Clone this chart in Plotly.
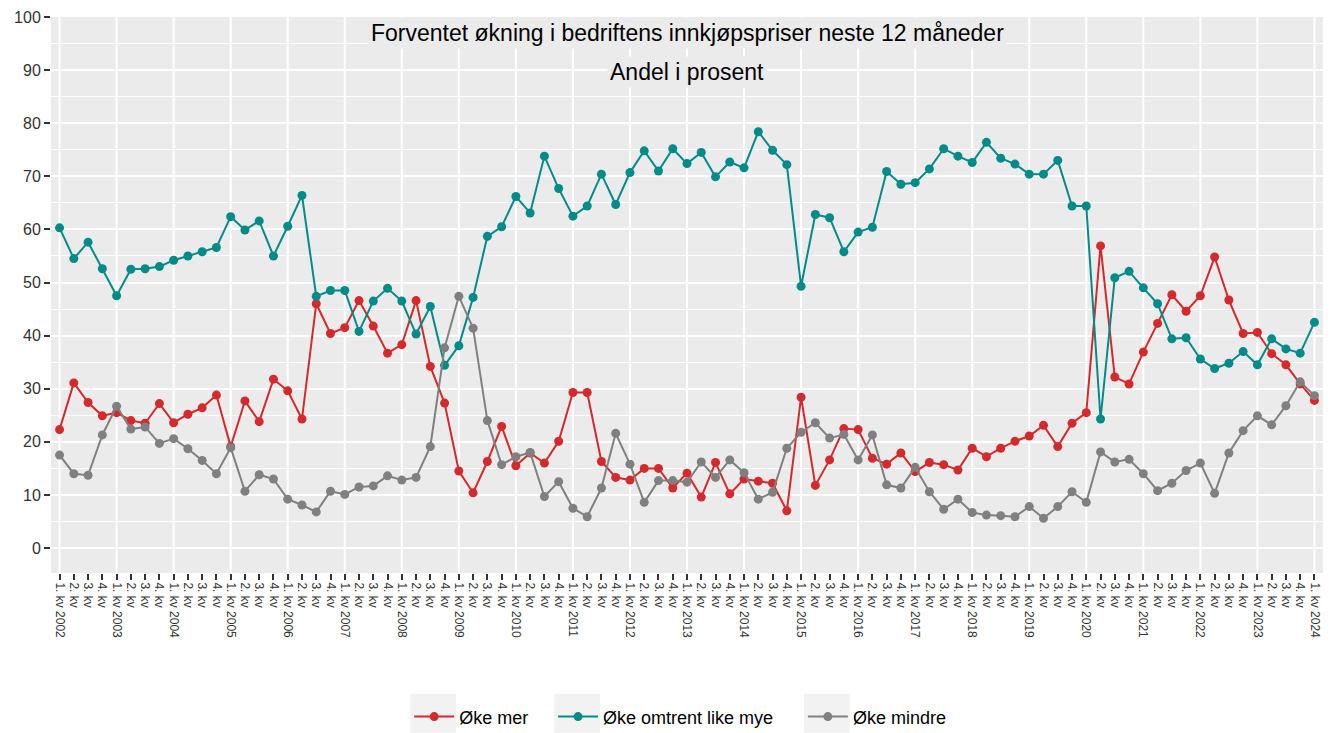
import plotly.graph_objects as go

# ---------------- data ----------------
years = list(range(2002, 2025))
quarter_names = ["1. kv", "2. kv", "3. kv", "4. kv"]

series_names = ["Øke mer", "Øke omtrent like mye", "Øke mindre"]

oke_mer = [
    22.3, 31.1, 27.4, 24.9,
    25.5, 24.0, 23.5, 27.2,
    23.6, 25.2, 26.4, 28.8,
    19.1, 27.7, 23.8, 31.8,
    29.6, 24.3, 46.0, 40.4,
    41.5, 46.6, 41.8, 36.7,
    38.3, 46.6, 34.2, 27.3,
    14.5, 10.4, 16.3, 22.9,
    15.5, 17.9, 16.0, 20.1,
    29.3, 29.3, 16.3, 13.3,
    12.8, 15.0, 15.0, 11.3,
    14.1, 9.6, 16.1, 10.2,
    13.0, 12.6, 12.2, 7.0,
    28.4, 11.8, 16.6, 22.5,
    22.3, 16.9, 15.8, 17.9,
    14.4, 16.1, 15.7, 14.7,
    18.8, 17.2, 18.8, 20.1,
    21.1, 23.1, 19.1, 23.5,
    25.5, 56.9, 32.2, 30.9,
    36.9, 42.3, 47.7, 44.6,
    47.5, 54.8, 46.7, 40.4,
    40.6, 36.6, 34.5, 30.9,
    27.8,
]

oke_like_mye = [
    60.3, 54.5, 57.6, 52.6,
    47.5, 52.5, 52.6, 53.0,
    54.2, 55.0, 55.8, 56.6,
    62.4, 59.9, 61.6, 55.0,
    60.6, 66.4, 47.4, 48.5,
    48.5, 40.8, 46.5, 48.9,
    46.5, 40.3, 45.5, 34.4,
    38.1, 47.2, 58.7, 60.5,
    66.2, 63.1, 73.8, 67.7,
    62.5, 64.4, 70.4, 64.7,
    70.7, 74.8, 71.0, 75.2,
    72.4, 74.5, 69.9, 72.7,
    71.6, 78.4, 74.9, 72.2,
    49.3, 62.8, 62.2, 55.8,
    59.5, 60.4, 70.9, 68.5,
    68.8, 71.4, 75.2, 73.8,
    72.6, 76.4, 73.4, 72.3,
    70.4, 70.4, 73.0, 64.4,
    64.4, 24.3, 50.9, 52.1,
    49.0, 46.0, 39.4, 39.6,
    35.6, 33.8, 34.8, 37.0,
    34.5, 39.4, 37.5, 36.7,
    42.5,
]

oke_mindre = [
    17.5, 14.0, 13.7, 21.3,
    26.7, 22.4, 22.8, 19.7,
    20.6, 18.7, 16.5, 14.0,
    18.9, 10.7, 13.8, 13.0,
    9.2, 8.1, 6.8, 10.7,
    10.1, 11.5, 11.7, 13.6,
    12.8, 13.3, 19.1, 37.7,
    47.4, 41.4, 24.0, 15.7,
    17.2, 18.0, 9.7, 12.5,
    7.5, 5.9, 11.3, 21.6,
    15.8, 8.6, 12.7, 12.7,
    12.4, 16.2, 13.3, 16.6,
    14.2, 9.2, 10.5, 18.8,
    21.8, 23.6, 20.7, 21.4,
    16.6, 21.3, 11.9, 11.3,
    15.2, 10.6, 7.3, 9.2,
    6.7, 6.2, 6.1, 5.9,
    7.8, 5.6, 7.8, 10.6,
    8.6, 18.1, 16.2, 16.7,
    14.0, 10.8, 12.2, 14.6,
    16.0, 10.3, 17.9, 22.1,
    24.9, 23.2, 26.8, 31.3,
    28.7,
]

title_line1 = "Forventet økning i bedriftens innkjøpspriser neste 12 måneder"
title_line2 = "Andel i prosent"
y_ticks = list(range(0, 101, 10))

# ---------------- categories / labels ----------------
n = len(oke_mer)
x_idx = list(range(n))
tick_labels = []
year_positions = []
for i in x_idx:
    q = i % 4
    yr = years[i // 4]
    if q == 0:
        tick_labels.append(f"{quarter_names[q]} {yr}")
        year_positions.append(i)
    else:
        tick_labels.append(quarter_names[q])

colors = ["#D42A2B", "#008B8B", "#808080"]
values = [oke_mer, oke_like_mye, oke_mindre]
legend_ids = ["legend", "legend2", "legend3"]
# legend placement (paper fraction of plot width) and key box extents
legend_x = [0.2816, 0.3947, 0.5911]
key_box_x0 = [0.2824, 0.3955, 0.5919]
key_box_w = 0.0361

fig = go.Figure()
for name, vals, col, lid in zip(series_names, values, colors, legend_ids):
    fig.add_trace(go.Scatter(
        x=x_idx, y=vals, name=name, mode="lines+markers",
        line=dict(color=col, width=2),
        marker=dict(color=col, size=9),
        legend=lid,
        hovertemplate="%{y}<extra>" + name + "</extra>",
    ))

# vertical grid lines at each year's first quarter
for p in year_positions:
    fig.add_shape(type="line", xref="x", yref="paper", x0=p, x1=p, y0=0, y1=1,
                  line=dict(color="white", width=2), layer="below")

font_family = "Liberation Sans, Arial, sans-serif"

legend_common = dict(orientation="h", xanchor="left",
                     yref="container", y=0.022, yanchor="middle",
                     font=dict(size=18, color="#000000"), itemwidth=40,
                     bgcolor="rgba(0,0,0,0)")

fig.update_layout(
    width=1333, height=733,
    margin=dict(l=50.5, r=9.5, t=17.3, b=159.7, autoexpand=False),
    paper_bgcolor="white",
    plot_bgcolor="#EBEBEB",
    font=dict(family=font_family, color="#000000"),
    showlegend=True,
    legend=dict(x=legend_x[0], **legend_common),
    legend2=dict(x=legend_x[1], **legend_common),
    legend3=dict(x=legend_x[2], **legend_common),
    annotations=[
        dict(text=title_line1, xref="paper", yref="paper", x=0.5, y=0.9718,
             xanchor="center", yanchor="middle", showarrow=False,
             font=dict(size=23, color="#000000"), bgcolor="#EBEBEB", borderpad=2),
        dict(text=title_line2, xref="paper", yref="paper", x=0.5, y=0.9016,
             xanchor="center", yanchor="middle", showarrow=False,
             font=dict(size=23, color="#000000"), bgcolor="#EBEBEB", borderpad=2),
    ],
)

# light grey legend key backgrounds
for x0 in key_box_x0:
    fig.add_shape(type="rect", xref="paper", yref="paper",
                  x0=x0, x1=x0 + key_box_w, y0=-0.2872, y1=-0.2171,
                  line=dict(width=0), fillcolor="#F2F2F2", layer="below")

fig.update_xaxes(
    range=[-0.6, n - 1 + 0.6], automargin=False,
    tickmode="array", tickvals=x_idx, ticktext=tick_labels,
    tickangle=90, tickfont=dict(size=12, color="#333333"),
    ticks="outside", ticklen=6, tickwidth=2, tickcolor="#333333",
    showgrid=False, zeroline=False, showline=False,
)
fig.update_yaxes(
    range=[-4.7, 100], automargin=False,
    tickmode="array", tickvals=y_ticks,
    tickfont=dict(size=16, color="#333333"),
    ticks="outside", ticklen=6, tickwidth=2, tickcolor="#333333",
    showgrid=True, gridcolor="white", gridwidth=2,
    minor=dict(dtick=5, tick0=0, showgrid=True, gridcolor="white", gridwidth=1, ticks=""),
    zeroline=False, showline=False,
)

fig.write_html("out.html", config={"displayModeBar": False},
               post_script="document.body.style.margin='0';")
